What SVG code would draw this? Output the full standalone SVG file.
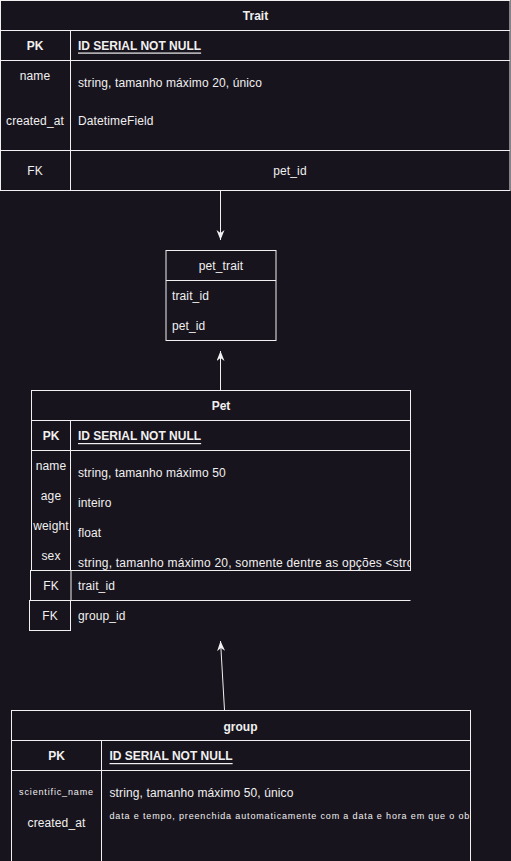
<svg xmlns="http://www.w3.org/2000/svg" width="511" height="861" viewBox="0 0 511 861">
<style>
.bg{fill:#18141d}
.box{fill:#18141d;stroke:#f0f0f0;stroke-width:1}
.ln{stroke:#f0f0f0;stroke-width:1;fill:none}
text{font-family:"Liberation Sans",Arial,Helvetica,sans-serif;font-size:12px;fill:#f0f0f0;dominant-baseline:central;letter-spacing:0.12px}
.b{font-weight:bold;letter-spacing:0}
.c{text-anchor:middle}
.u{text-decoration:underline}
.s{font-size:9px;letter-spacing:0.85px}
.w{letter-spacing:0.22px}
</style>
<defs>
<marker id="arr" markerUnits="userSpaceOnUse" markerWidth="12" markerHeight="10" refX="10" refY="4" orient="auto">
<path d="M0,0 L10,4 L0,8 L3,4 Z" fill="#f0f0f0"/>
</marker>
<clipPath id="cpPet"><rect x="71" y="540" width="339" height="30"/></clipPath>
<clipPath id="cpGrp"><rect x="102" y="800" width="368" height="30"/></clipPath>
</defs>
<rect class="bg" x="0" y="0" width="511" height="861"/>

<g id="connectors">
<line class="ln" x1="220.5" y1="190.5" x2="220.5" y2="240" marker-end="url(#arr)"/>
<line class="ln" x1="220.5" y1="390.5" x2="220.5" y2="351" marker-end="url(#arr)"/>
<line class="ln" x1="224.5" y1="710" x2="220.5" y2="641" marker-end="url(#arr)"/>
</g>

<g id="trait">
<rect class="box" x="0.5" y="0.5" width="509.5" height="190"/>
<line class="ln" x1="0.5" y1="30.5" x2="510" y2="30.5"/>
<line class="ln" x1="0.5" y1="60.5" x2="510" y2="60.5"/>
<line class="ln" x1="0.5" y1="150.5" x2="510" y2="150.5"/>
<line class="ln" x1="70.5" y1="30.5" x2="70.5" y2="190.5"/>
<text class="b c" x="255.5" y="15.5">Trait</text>
<text class="b c" x="35" y="45.5">PK</text>
<text class="b u" x="78" y="45.5">ID SERIAL NOT NULL</text>
<text class="c" x="35" y="76">name</text>
<text x="78" y="82.5">string, tamanho máximo 20, único</text>
<text class="c" x="35" y="120.5">created_at</text>
<text x="78" y="120.5">DatetimeField</text>
<text class="c" x="35" y="171">FK</text>
<text class="c" x="290" y="171">pet_id</text>
</g>

<g id="pet_trait">
<rect class="box" x="166" y="250.5" width="110" height="90"/>
<line class="ln" x1="166" y1="280.5" x2="276" y2="280.5"/>
<text class="c" x="221" y="265.5">pet_trait</text>
<text x="172" y="296">trait_id</text>
<text x="172" y="326">pet_id</text>
</g>

<g id="pet">
<rect class="box" x="31.5" y="390.5" width="379" height="180"/>
<line class="ln" x1="31.5" y1="420.5" x2="410.5" y2="420.5"/>
<line class="ln" x1="31.5" y1="450.5" x2="410.5" y2="450.5"/>
<line class="ln" x1="70.5" y1="420.5" x2="70.5" y2="570.5"/>
<text class="b c" x="221" y="405.5">Pet</text>
<text class="b c" x="51" y="436">PK</text>
<text class="b u" x="78" y="436">ID SERIAL NOT NULL</text>
<text class="c" x="51" y="466">name</text>
<text x="78" y="472.5">string, tamanho máximo 50</text>
<text class="c" x="51" y="496">age</text>
<text x="78" y="502.5">inteiro</text>
<text class="c" x="51" y="526">weight</text>
<text x="78" y="532.5">float</text>
<text class="c" x="51" y="556">sex</text>
<text class="w" x="78" y="562.5" clip-path="url(#cpPet)">string, tamanho máximo 20, somente dentre as opções &lt;stro</text>
<rect class="box" x="30.5" y="570.5" width="40.5" height="30"/>
<line class="ln" x1="30.5" y1="600.5" x2="410.5" y2="600.5"/>
<text class="c" x="51" y="586">FK</text>
<text x="78" y="586">trait_id</text>
<rect class="box" x="29.5" y="600.5" width="41" height="30"/>
<text class="c" x="50" y="616">FK</text>
<text x="78" y="616">group_id</text>
</g>

<g id="group">
<rect class="box" x="11.5" y="710.5" width="459" height="170"/>
<line class="ln" x1="11.5" y1="740.5" x2="470.5" y2="740.5"/>
<line class="ln" x1="11.5" y1="770.5" x2="470.5" y2="770.5"/>
<line class="ln" x1="101.5" y1="740.5" x2="101.5" y2="880"/>
<text class="b c" x="240.5" y="726.5">group</text>
<text class="b c" x="56.5" y="756">PK</text>
<text class="b u" x="109.5" y="756">ID SERIAL NOT NULL</text>
<text class="c s" x="56.5" y="791.5">scientific_name</text>
<text x="109.5" y="793">string, tamanho máximo 50, único</text>
<text class="c" x="56.5" y="823">created_at</text>
<text class="s" x="109.5" y="815.5" clip-path="url(#cpGrp)">data e tempo, preenchida automaticamente com a data e hora em que o ob</text>
</g>
</svg>
